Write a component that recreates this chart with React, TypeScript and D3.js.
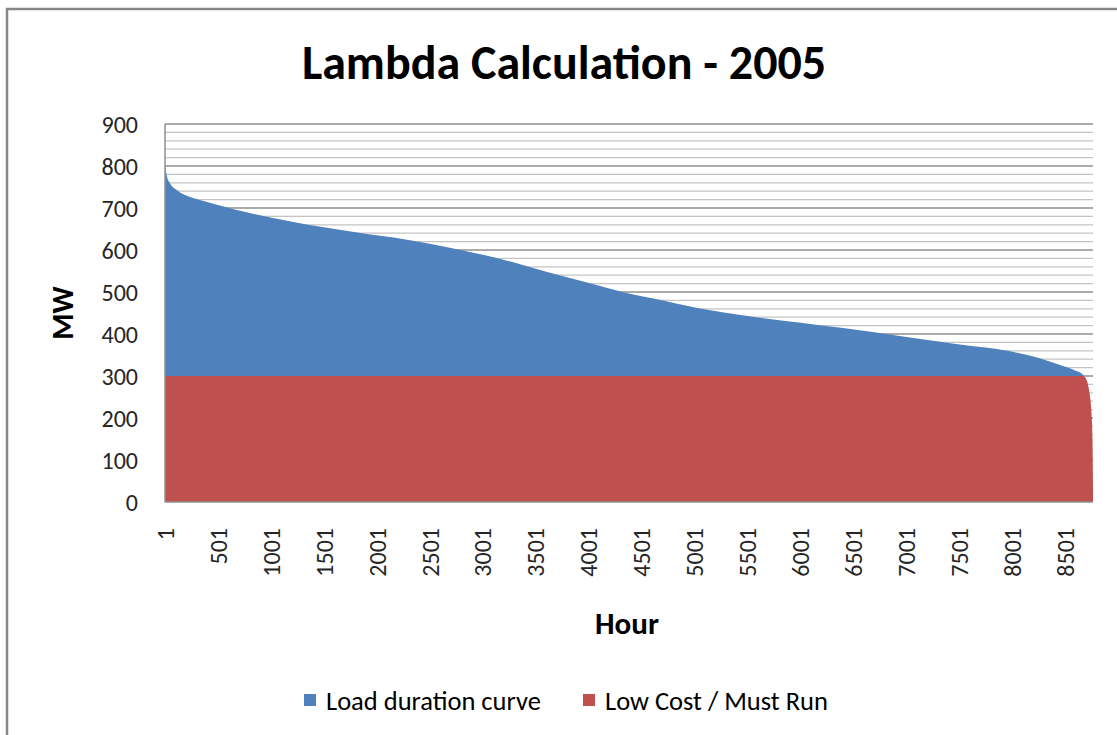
import React from 'react';
import * as d3 from 'd3';

// hour of year (sorted load duration)
const hours = [1, 20, 50, 100, 150, 200, 330, 500, 800, 1200, 1800, 2300, 2700, 3150, 3600, 4100, 4400, 4600, 5050, 5500, 6000, 6400, 7000, 7500, 7950, 8250, 8450, 8580, 8670, 8690, 8710, 8730, 8745, 8755, 8760];
const loadMW = [800, 775, 758, 745, 736, 730, 719, 707, 688, 667, 642, 624, 605, 580, 548, 515, 495, 485, 461, 443, 427, 414, 393, 375, 360, 343, 326, 314, 302, 295, 282, 255, 215, 150, 40];
const mustRunMW = [300, 300, 300, 300, 300, 300, 300, 300, 300, 300, 300, 300, 300, 300, 300, 300, 300, 300, 300, 300, 300, 300, 300, 300, 300, 300, 300, 300, 300, 295, 282, 255, 215, 150, 40];

const xTickLabels = ['1', '501', '1001', '1501', '2001', '2501', '3001', '3501', '4001', '4501', '5001', '5501', '6001', '6501', '7001', '7501', '8001', '8501'];
const yTicks = [0, 100, 200, 300, 400, 500, 600, 700, 800, 900];
const seriesNames = ['Load duration curve', 'Low Cost / Must Run'];
const seriesColors = ['#4F81BD', '#C0504D'];

const W = 1117;
const H = 735;
const plot = { left: 165, right: 1093, top: 124, bottom: 502 };
const font = 'Carlito, Calibri, Lato, sans-serif';

export default function App() {
  const x = d3.scaleLinear().domain([1, 8760]).range([plot.left, plot.right]);
  const y = d3.scaleLinear().domain([0, 900]).range([plot.bottom, plot.top]);

  const rows = hours.map((h, i) => ({ h, load: loadMW[i], run: mustRunMW[i] }));

  const blueArea = d3.area<any>()
    .x(d => x(d.h))
    .y0(d => y(d.run))
    .y1(d => y(d.load))
    .curve(d3.curveMonotoneX)(rows);

  const redArea = d3.area<any>()
    .x(d => x(d.h))
    .y0(y(0))
    .y1(d => y(d.run))
    .curve(d3.curveMonotoneX)(rows);

  const grid = d3.range(20, 901, 20);

  return (
    <div style={{ position: 'absolute', left: 0, top: 0 }}>
      <svg width={W} height={H} style={{ display: 'block' }}>
        <rect x={7} y={9} width={1120} height={740} fill="#fff" stroke="#878787" strokeWidth={2.5} />

        <text x={564} y={79} textAnchor="middle" fontFamily={font} fontWeight="bold" fontSize={48} fill="#000">
          Lambda Calculation - 2005
        </text>

        {grid.map(v => (
          <line key={v} x1={plot.left} x2={plot.right} y1={y(v)} y2={y(v)}
            stroke={v % 100 === 0 ? '#8f8f8f' : '#c4c4c4'} strokeWidth={1.3} />
        ))}

        <path d={blueArea ?? ''} fill={seriesColors[0]} />
        <path d={redArea ?? ''} fill={seriesColors[1]} />

        <line x1={plot.left} x2={plot.left} y1={plot.top} y2={plot.bottom} stroke="#8f8f8f" strokeWidth={1.5} />
        <line x1={plot.left} x2={plot.right} y1={plot.bottom} y2={plot.bottom} stroke="#8f8f8f" strokeWidth={1.5} />

        {yTicks.map(v => (
          <text key={v} x={138} y={y(v)} dy="0.36em" textAnchor="end" fontFamily={font} fontSize={24} fill="#262626">
            {v}
          </text>
        ))}

        {xTickLabels.map(t => (
          <text key={t} transform={`translate(${x(+t)},528) rotate(-90)`} dy="0.36em" textAnchor="end"
            fontFamily={font} fontSize={24} fill="#262626">
            {t}
          </text>
        ))}

        <text transform={`translate(62,${(plot.top + plot.bottom) / 2}) rotate(-90)`} dy="0.36em" textAnchor="middle"
          fontFamily={font} fontWeight="bold" fontSize={30} fill="#000">
          MW
        </text>
        <text x={627} y={634} textAnchor="middle" fontFamily={font} fontWeight="bold" fontSize={31} fill="#000">
          Hour
        </text>

        {seriesNames.map((name, i) => {
          const lx = i === 0 ? 304 : 583;
          return (
            <g key={name}>
              <rect x={lx} y={694} width={12} height={12} fill={seriesColors[i]} />
              <text x={lx + 22} y={700} dy="0.36em" fontFamily={font} fontSize={26.5} fill="#000">{name}</text>
            </g>
          );
        })}
      </svg>
    </div>
  );
}
